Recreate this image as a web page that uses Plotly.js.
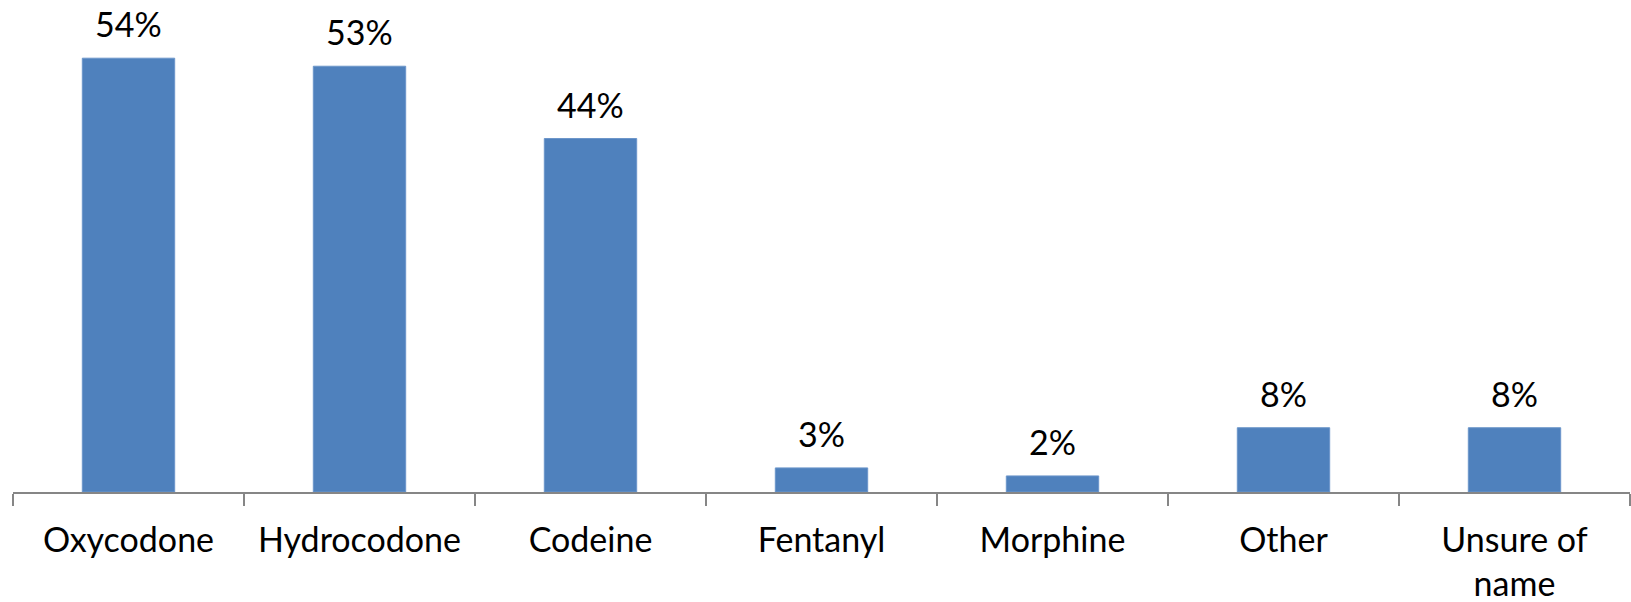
<!DOCTYPE html>
<html>
<head>
<meta charset="utf-8">
<script src="https://cdn.plot.ly/plotly-3.0.1.min.js"></script>
<style>html,body{margin:0;padding:0;background:#fff;}#chart{width:1631px;height:602px;}</style>
</head>
<body>
<div id="chart"></div>
<script>
const categories = ["Oxycodone", "Hydrocodone", "Codeine", "Fentanyl", "Morphine", "Other", "Unsure of<br>name"];
const values = [54, 53, 44, 3, 2, 8, 8];
const labels = values.map(v => v + "%");

const FONT = "Lato, 'Open Sans', sans-serif";

const trace = {
  type: "bar",
  x: categories,
  y: values,
  marker: {color: "#4F81BD", line: {color: "#6C96CA", width: 1}},
  hoverinfo: "skip"
};

const annotations = categories.map((c, i) => ({
  x: c, y: values[i], xref: "x", yref: "y",
  text: labels[i], showarrow: false,
  yanchor: "bottom", yshift: 12,
  font: {family: FONT, size: 34, color: "#000"}
}));

const layout = {
  width: 1631, height: 602,
  margin: {l: 13, r: 1, t: 10, b: 110},
  paper_bgcolor: "#fff", plot_bgcolor: "#fff",
  showlegend: false,
  bargap: 0.6,
  font: {family: FONT, size: 34, color: "#000"},
  xaxis: {
    type: "category",
    showline: true, linecolor: "#868686", linewidth: 2,
    ticks: "outside", tickson: "boundaries", ticklen: 12, tickwidth: 2, tickcolor: "#868686",
    showgrid: false, zeroline: false,
    tickfont: {family: FONT, size: 34, color: "#000"},
    ticklabelstandoff: 17
  },
  yaxis: {
    range: [0, 60], visible: false, showgrid: false, zeroline: false
  },
  annotations: annotations
};

Plotly.newPlot("chart", [trace], layout, {staticPlot: true, displayModeBar: false});
</script>
</body>
</html>
